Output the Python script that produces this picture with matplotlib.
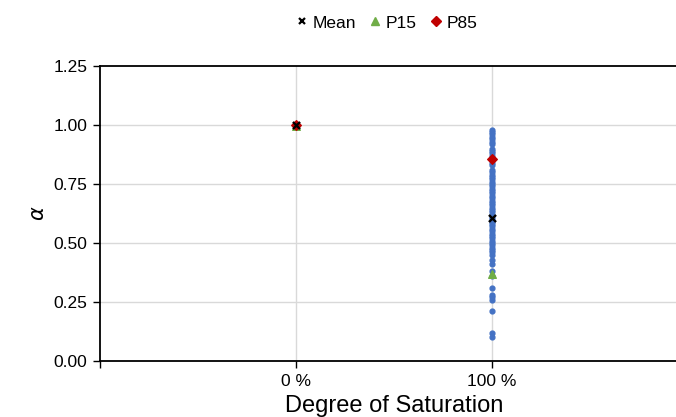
import matplotlib.pyplot as plt
import numpy as np
from matplotlib.lines import Line2D

dbl_width = 676.0
dbl_height = 417.0
dbl_dpi = 100.0

plt.rcParams['font.family'] = ['Liberation Sans', 'DejaVu Sans']

# degree of saturation (fraction) and alpha values
sat_0 = [0.0]
alpha_0 = [1.0]

alpha_100 = [0.98, 0.97, 0.96, 0.95, 0.94, 0.93, 0.92, 0.90, 0.89, 0.88,
             0.87, 0.86, 0.85, 0.84, 0.83, 0.81, 0.80, 0.79, 0.78, 0.77,
             0.76, 0.75, 0.74, 0.73, 0.72, 0.71, 0.70, 0.69, 0.68, 0.67,
             0.66, 0.65, 0.64, 0.63, 0.62, 0.61, 0.60, 0.59, 0.58, 0.57,
             0.56, 0.55, 0.54, 0.53, 0.52, 0.51, 0.50, 0.49, 0.48, 0.47,
             0.46, 0.45, 0.43, 0.41, 0.38, 0.36, 0.31, 0.28, 0.27, 0.26,
             0.21, 0.12, 0.10]
sat_100 = [1.0] * len(alpha_100)

stat_sat = [0.0, 1.0]
mean_vals = [1.0, 0.605]
p15_vals = [0.995, 0.37]
p85_vals = [1.0, 0.855]

x_ticks = [-1, 0, 1, 2]
x_labels = ['', '0 %', '100 %', '']
y_ticks = [0.0, 0.25, 0.5, 0.75, 1.0, 1.25]

c_blue = '#4472C4'
c_green = '#70AD47'
c_red = '#C00000'

fig = plt.figure(figsize=(dbl_width / dbl_dpi, dbl_height / dbl_dpi), dpi=dbl_dpi)
ax = fig.add_axes([100 / dbl_width, 56 / dbl_height, 588 / dbl_width, 295 / dbl_height])

ax.scatter(sat_0, alpha_0, s=12, color=c_blue, zorder=3)
ax.scatter(sat_100, alpha_100, s=12, color=c_blue, zorder=3)
ax.scatter(stat_sat, p15_vals, s=30, marker='^', color=c_green, zorder=4)
ax.scatter(stat_sat, p85_vals, s=24, marker='D', color=c_red, zorder=5)
ax.scatter(stat_sat, mean_vals, s=26, marker='x', color='black', linewidths=1.7, zorder=6)

ax.set_xlim(-1, 2)
ax.set_ylim(0, 1.25)
ax.set_xticks(x_ticks)
ax.set_xticklabels(x_labels)
ax.set_yticks(y_ticks)
ax.set_yticklabels(['%.2f' % v for v in y_ticks])
ax.tick_params(labelsize=12.5, length=5, width=1, color='black', pad=4)

for xv in [0, 1]:
    ax.axvline(xv, color='#D9D9D9', lw=1, zorder=1)
for yv in [0.25, 0.5, 0.75, 1.0]:
    ax.axhline(yv, color='#D9D9D9', lw=1, zorder=1)

ax.spines['right'].set_visible(False)
for s in ['left', 'bottom', 'top']:
    ax.spines[s].set_color('black')
    ax.spines[s].set_linewidth(1.3)

ax.set_xlabel('Degree of Saturation', fontsize=17, labelpad=5)
ax.set_ylabel(r'$\alpha$', fontsize=15, labelpad=4)

handles = [Line2D([], [], ls='', marker='x', color='black', markersize=5, mew=1.6),
           Line2D([], [], ls='', marker='^', color=c_green, markersize=6),
           Line2D([], [], ls='', marker='D', color=c_red, markersize=5)]
fig.legend(handles, ['Mean', 'P15', 'P85'], loc='center', bbox_to_anchor=(387 / dbl_width, 1 - 23 / dbl_height),
           ncol=3, frameon=False, fontsize=12.5, handlelength=0.6, handletextpad=0.3, columnspacing=0.8)

fig.savefig('out.png', dpi=dbl_dpi)
